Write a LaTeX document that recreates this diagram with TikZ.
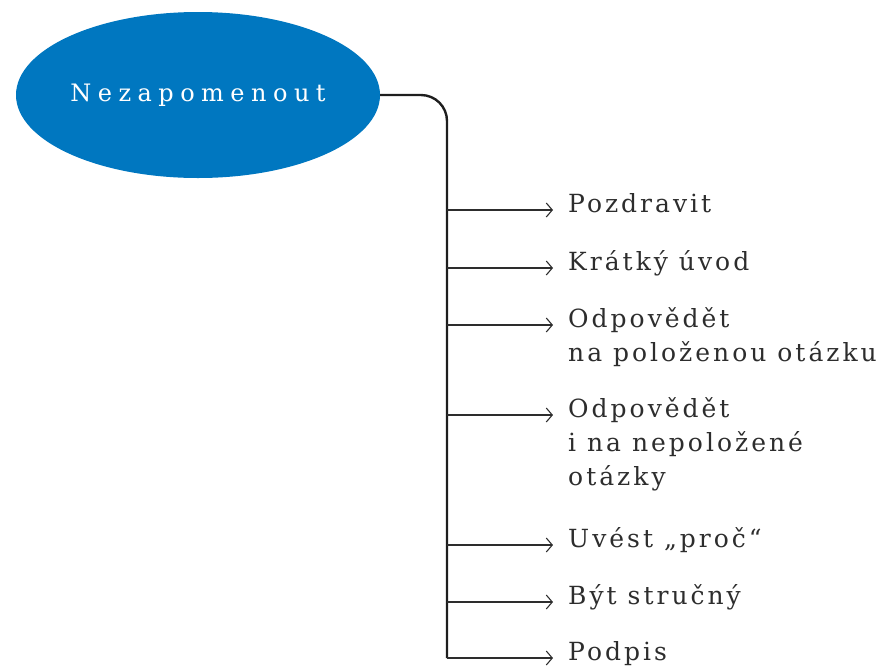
\documentclass[tikz,border=0pt]{standalone}
\usepackage{fontspec}
\setmainfont{DejaVu Serif}
\newfontfamily\itemfont[LetterSpace=12]{DejaVu Serif}
\newfontfamily\topicfont[LetterSpace=27]{DejaVu Serif}
\usepackage{xcolor}
\definecolor{mindblue}{RGB}{0, 119, 192}
\definecolor{trunkgray}{RGB}{30, 30, 30}
\definecolor{textgray}{RGB}{45, 45, 45}
\usepackage{tikz}
\usetikzlibrary{arrows.meta, positioning, shapes.geometric}

\begin{document}
\begin{tikzpicture}[x=1pt, y=-1pt,
        topic/.style={ellipse, fill=mindblue, minimum width=364pt, minimum height=166pt, inner sep=0pt, text=white, font=\topicfont\fontsize{24}{28}\selectfont},
        item/.style={anchor=mid west, inner xsep=15pt, inner ysep=0pt, text=textgray, font=\itemfont\fontsize{25}{34}\selectfont},
        trunk/.style={draw=trunkgray, line width=2.4pt, rounded corners=26pt},
        branch/.style={draw=textgray, line width=1.1pt, -{Straight Barb[length=6pt,width=14pt]}}]

        \useasboundingbox (0,0) rectangle (885,665);

        \node [topic] (nez) at (198,95) {Nezapomenout};

        \coordinate (b1) at (447,210);
        \coordinate (b2) at (447,268);
        \coordinate (b3) at (447,325);
        \coordinate (b4) at (447,415);
        \coordinate (b5) at (447,545);
        \coordinate (b6) at (447,602);
        \coordinate (b7) at (447,658);

        \node [item] (pozdravit) at (553,210) {Pozdravit};
        \node [item] (uvod) at (553,268) {Krátký úvod};
        \node [item] (otazka) at (553,325) {\begin{tabular}[t]{@{}l@{}}Odpovědět\\na položenou otázku\end{tabular}};
        \node [item] (neotazka) at (553,415) {\begin{tabular}[t]{@{}l@{}}Odpovědět\\i na nepoložené\\otázky\end{tabular}};
        \node [item] (proc) at (553,545) {Uvést „proč“};
        \node [item] (strucny) at (553,602) {Být stručný};
        \node [item] (podpis) at (553,658) {Podpis};

        \path [trunk] (nez.east) -| (b7);

        \path [branch] (b1) -- (pozdravit.mid west);
        \path [branch] (b2) -- (uvod.mid west);
        \path [branch] (b3) -- (otazka.mid west);
        \path [branch] (b4) -- (neotazka.mid west);
        \path [branch] (b5) -- (proc.mid west);
        \path [branch] (b6) -- (strucny.mid west);
        \path [branch] (b7) -- (podpis.mid west);
    \end{tikzpicture}
\end{document}
